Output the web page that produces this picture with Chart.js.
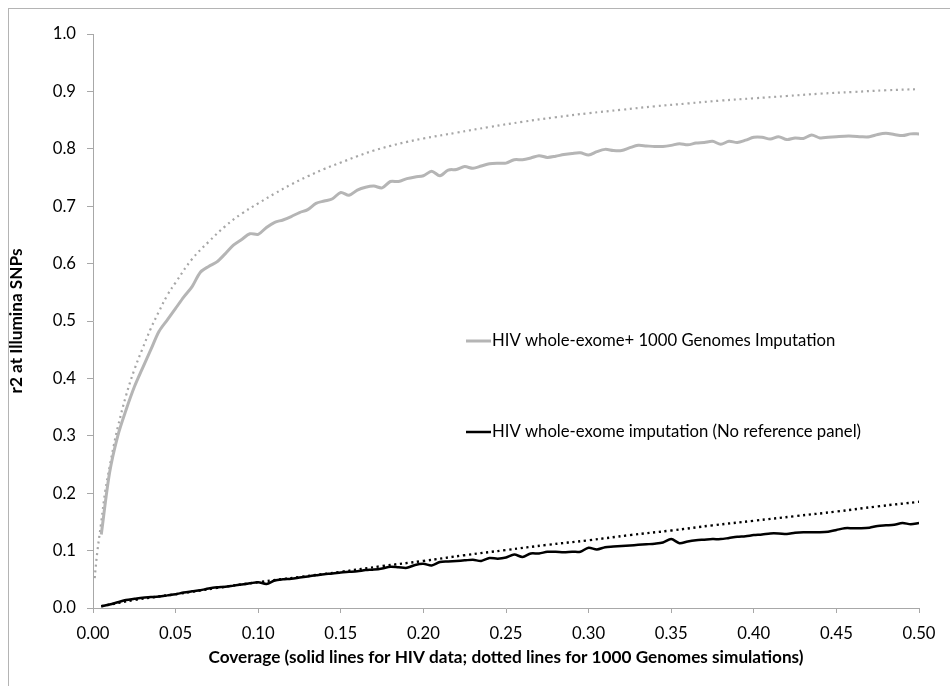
<!DOCTYPE html>
<html>
<head>
<meta charset="utf-8">
<script src="https://cdn.jsdelivr.net/npm/chart.js@4.4.1/dist/chart.umd.min.js"></script>
<style>
html,body{margin:0;padding:0;background:#fff;overflow:hidden;}
#wrap{position:relative;width:950px;height:686px;}
</style>
</head>
<body>
<div id="wrap"><canvas id="c" width="950" height="686"></canvas></div>
<script>
// ---- DATA ----
const coverage = [0.005,0.010,0.015,0.020,0.025,0.030,0.035,0.040,0.045,0.050,
0.055,0.060,0.065,0.070,0.075,0.080,0.085,0.090,0.095,0.100,
0.105,0.110,0.115,0.120,0.125,0.130,0.135,0.140,0.145,0.150,
0.155,0.160,0.165,0.170,0.175,0.180,0.185,0.190,0.195,0.200,
0.205,0.210,0.215,0.220,0.225,0.230,0.235,0.240,0.245,0.250,
0.255,0.260,0.265,0.270,0.275,0.280,0.285,0.290,0.295,0.300,
0.305,0.310,0.315,0.320,0.325,0.330,0.335,0.340,0.345,0.350,
0.355,0.360,0.365,0.370,0.375,0.380,0.385,0.390,0.395,0.400,
0.405,0.410,0.415,0.420,0.425,0.430,0.435,0.440,0.445,0.450,
0.455,0.460,0.465,0.470,0.475,0.480,0.485,0.490,0.495,0.500];

const hivPlus1000G = [0.128,0.235,0.300,0.345,0.385,0.418,0.450,0.482,0.502,0.522,
0.542,0.560,0.585,0.595,0.603,0.617,0.632,0.642,0.652,0.651,
0.663,0.672,0.676,0.682,0.689,0.694,0.705,0.709,0.713,0.724,
0.719,0.728,0.733,0.735,0.732,0.743,0.743,0.748,0.751,0.753,
0.761,0.753,0.763,0.764,0.769,0.766,0.770,0.774,0.775,0.775,
0.781,0.781,0.784,0.788,0.785,0.787,0.790,0.792,0.793,0.789,
0.795,0.799,0.797,0.797,0.802,0.806,0.805,0.804,0.804,0.806,
0.809,0.807,0.810,0.811,0.813,0.808,0.813,0.811,0.815,0.820,
0.820,0.817,0.821,0.816,0.819,0.818,0.824,0.819,0.820,0.821,
0.822,0.822,0.821,0.821,0.825,0.827,0.825,0.823,0.826,0.826];

const hivNoRef = [0.003,0.006,0.010,0.014,0.016,0.018,0.019,0.020,0.022,0.024,
0.027,0.029,0.031,0.034,0.036,0.037,0.039,0.041,0.043,0.045,
0.042,0.048,0.050,0.051,0.053,0.055,0.057,0.059,0.060,0.062,
0.063,0.064,0.066,0.067,0.069,0.072,0.071,0.070,0.075,0.077,
0.074,0.080,0.081,0.082,0.083,0.084,0.082,0.087,0.086,0.088,
0.093,0.089,0.095,0.095,0.098,0.098,0.097,0.098,0.098,0.105,
0.102,0.106,0.107,0.108,0.109,0.110,0.111,0.112,0.114,0.120,
0.113,0.116,0.118,0.119,0.120,0.120,0.122,0.124,0.125,0.127,
0.128,0.130,0.130,0.129,0.131,0.132,0.132,0.132,0.133,0.136,
0.139,0.139,0.139,0.140,0.143,0.144,0.145,0.148,0.146,0.148];

const simCoverageA = [0.001,0.0025,0.005,0.0075,0.010,0.0125,0.015,0.020,0.025,0.030,
0.035,0.040,0.045,0.050,0.060,0.070,0.080,0.090,0.100,0.110,
0.120,0.130,0.140,0.150,0.160,0.170,0.180,0.190,0.200,0.220,
0.240,0.260,0.280,0.300,0.320,0.340,0.360,0.380,0.400,0.420,
0.440,0.460,0.480,0.500];
const sim1000G = [0.052,0.095,0.150,0.205,0.245,0.282,0.315,0.370,0.415,0.452,
0.487,0.517,0.545,0.567,0.608,0.638,0.665,0.687,0.705,0.722,
0.738,0.752,0.765,0.776,0.787,0.797,0.805,0.812,0.818,0.828,
0.838,0.847,0.855,0.862,0.868,0.874,0.879,0.884,0.888,0.892,
0.896,0.899,0.902,0.904];

const simCoverageB = [0.005,0.025,0.050,0.075,0.100,0.125,0.150,0.175,0.200,0.225,
0.250,0.275,0.300,0.325,0.350,0.375,0.400,0.425,0.450,0.475,0.500];
const simNoRef = [0.003,0.014,0.024,0.035,0.045,0.054,0.063,0.073,0.082,0.092,
0.101,0.110,0.118,0.127,0.135,0.144,0.152,0.160,0.168,0.177,0.185];

const xTicks = [0.00,0.05,0.10,0.15,0.20,0.25,0.30,0.35,0.40,0.45,0.50];
const yTicks = [0.0,0.1,0.2,0.3,0.4,0.5,0.6,0.7,0.8,0.9,1.0];

const labelGray = 'HIV whole-exome+ 1000 Genomes Imputation';
const labelBlack = 'HIV whole-exome imputation (No reference panel)';
const xTitle = 'Coverage (solid lines for HIV data; dotted lines for 1000 Genomes simulations)';
const yTitle = 'r2 at Illumina SNPs';

// ---- BUILD ----
function pts(xs, ys){ return xs.map((x,i)=>({x:x, y:ys[i]})); }
const FONT = 'Lato, "Open Sans", sans-serif';

const frame = {
  id:'frame',
  beforeDraw(chart){
    const ctx = chart.ctx;
    ctx.save();
    ctx.fillStyle='#fff';
    ctx.fillRect(0,0,chart.width,chart.height);
    ctx.strokeStyle='#b4b4b4';
    ctx.lineWidth=1;
    ctx.strokeRect(8.5,8.5,1000,1000);
    ctx.restore();
  }
};

const insideLegend = {
  id:'insideLegend',
  afterDraw(chart, args, opts){
    const ctx = chart.ctx, ca = chart.chartArea;
    ctx.save();
    ctx.font = '16.7px ' + FONT;
    ctx.textBaseline = 'middle';
    opts.items.forEach(it=>{
      const ds = chart.data.datasets[it.index];
      const x = ca.left + it.dx, y = ca.top + it.dy;
      ctx.strokeStyle = ds.borderColor;
      ctx.lineWidth = ds.borderWidth;
      ctx.beginPath(); ctx.moveTo(x, y); ctx.lineTo(x+25, y); ctx.stroke();
      ctx.fillStyle = '#000';
      ctx.fillText(ds.label, x+26, y);
    });
    ctx.restore();
  }
};

new Chart(document.getElementById('c'), {
  type:'line',
  data:{
    datasets:[
      {label:labelGray, data:pts(coverage,hivPlus1000G), borderColor:'#b5b5b5', borderWidth:3, pointRadius:0, tension:0.3, fill:false},
      {label:'sim1000G', data:pts(simCoverageA,sim1000G), borderColor:'#a6a6a6', borderWidth:2.2, borderDash:[2,3.8], pointRadius:0, tension:0.4, fill:false},
      {label:labelBlack, data:pts(coverage,hivNoRef), borderColor:'#000', borderWidth:2.5, pointRadius:0, tension:0.3, fill:false},
      {label:'simNoRef', data:pts(simCoverageB,simNoRef), borderColor:'#000', borderWidth:2.4, borderDash:[2.2,3.6], pointRadius:0, tension:0.4, fill:false}
    ]
  },
  options:{
    responsive:false,
    animation:false,
    events:[],
    layout:{padding:{top:34,right:31,left:0,bottom:0}},
    plugins:{
      legend:{display:false},
      tooltip:{enabled:false},
      insideLegend:{items:[{index:0,dx:373,dy:307},{index:2,dx:373,dy:398}]}
    },
    scales:{
      x:{
        type:'linear', min:0, max:0.5,
        afterBuildTicks(s){ s.ticks = xTicks.map(v=>({value:v})); },
        afterFit(s){ s.height = 78; },
        ticks:{callback:v=>v.toFixed(2), color:'#000', font:{family:FONT,size:16.7}, padding:11, maxRotation:0, autoSkip:false},
        grid:{drawOnChartArea:false, drawTicks:true, tickLength:5, color:'#a8a8a8'},
        border:{display:true, color:'#a8a8a8', width:1},
        title:{display:true, text:xTitle, color:'#000', font:{family:FONT,size:17.2,weight:'bold'}, padding:{top:6,bottom:18}}
      },
      y:{
        type:'linear', min:0, max:1,
        afterBuildTicks(s){ s.ticks = yTicks.map(v=>({value:v})); },
        afterFit(s){ s.width = 93; },
        ticks:{callback:v=>v.toFixed(1), color:'#000', font:{family:FONT,size:16.7}, padding:11, autoSkip:false},
        grid:{drawOnChartArea:false, drawTicks:true, tickLength:6, color:'#a8a8a8'},
        border:{display:true, color:'#a8a8a8', width:1},
        title:{display:true, text:yTitle, color:'#000', font:{family:FONT,size:17.2,weight:'bold'}, padding:{top:6,bottom:6}}
      }
    }
  },
  plugins:[frame, insideLegend]
});
</script>
</body>
</html>
